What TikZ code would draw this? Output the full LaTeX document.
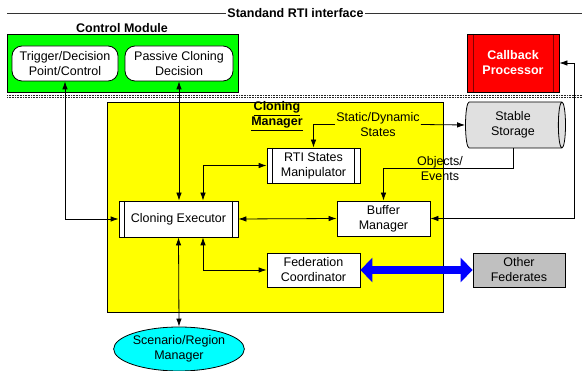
\documentclass[tikz,border=0pt]{standalone}
\usepackage{fontspec}
\setmainfont{Liberation Sans}
\usetikzlibrary{shapes.geometric,arrows.meta,positioning,calc}
\definecolor{ctrlgreen}{RGB}{0,255,0}
\definecolor{mgryellow}{RGB}{255,255,0}
\definecolor{cbred}{RGB}{255,0,0}
\definecolor{scencyan}{RGB}{0,255,255}
\definecolor{fedblue}{RGB}{0,0,255}
\definecolor{storgray}{RGB}{224,224,224}
\definecolor{othgray}{RGB}{192,192,192}

\tikzset{
  blk/.style={draw,line width=0.8pt,fill=white,align=center,inner sep=1pt},
  roundblk/.style={blk,rounded corners=10pt},
  procblk/.style={blk,path picture={
    \draw[line width=0.8pt] ([xshift=5.5pt]path picture bounding box.north west) -- ([xshift=5.5pt]path picture bounding box.south west);
    \draw[line width=0.8pt] ([xshift=-5.5pt]path picture bounding box.north east) -- ([xshift=-5.5pt]path picture bounding box.south east);}},
  lbl/.style={align=center,inner sep=1pt},
  link/.style={line width=0.8pt,>={Latex[length=8pt,width=5.5pt]}},
  fedlink/.style={draw=fedblue,line width=8pt,{Triangle[length=12pt,width=24pt]}-{Triangle[length=12pt,width=24pt]}}
}

\begin{document}
\begin{tikzpicture}[x=1pt,y=-1pt,font=\fontsize{12.5}{15}\selectfont]
\useasboundingbox (0,0) rectangle (582,371);

% Title
\node[lbl,font=\fontsize{12.5}{15}\selectfont\bfseries] (std) at (295.5,13) {Standand RTI interface};
\coordinate (tl) at (7,13);
\coordinate (tr) at (582,13);
\draw[line width=0.8pt,gray!40!black] (tl) -- (std.west);
\draw[line width=0.8pt,gray!40!black] (std.east) -- (tr);

% Control module
\node[lbl,font=\fontsize{12.5}{15}\selectfont\bfseries] (ctrltitle) at (122,28) {Control Module};
\node[draw,line width=0.8pt,fill=ctrlgreen,minimum width=231pt,minimum height=58pt] (ctrl) at (122.5,63) {};
\node[roundblk,minimum width=106pt,minimum height=35pt] (trig) at (65,63.5) {Trigger/Decision\\Point/Control};
\node[roundblk,minimum width=108pt,minimum height=35pt] (pass) at (179,63.5) {Passive Cloning\\Decision};

% Callback processor
\node[draw,line width=0.8pt,fill=cbred,text=white,font=\fontsize{12.5}{15}\selectfont\bfseries,align=center,
  minimum width=92pt,minimum height=58pt,path picture={
    \draw[line width=0.8pt,red!50!black] ([xshift=6pt]path picture bounding box.north west) -- ([xshift=6pt]path picture bounding box.south west);
    \draw[line width=0.8pt,red!50!black] ([xshift=-6pt]path picture bounding box.north east) -- ([xshift=-6pt]path picture bounding box.south east);}]
  (cb) at (513,63) {Callback\\Processor};

% RTI boundary
\coordinate (bl) at (7,95.5);
\coordinate (br) at (582,95.5);
\draw[line width=0.7pt,gray!30!black,dash pattern=on 1pt off 0.6pt] (bl) -- (br);
\draw[line width=0.7pt,gray!30!black,dash pattern=on 1pt off 0.6pt] ([yshift=-2pt]bl) -- ([yshift=-2pt]br);

% Cloning manager
\node[draw,line width=0.8pt,fill=mgryellow,minimum width=336pt,minimum height=210pt] (cm) at (275,207) {};
\node[lbl,font=\fontsize{12.5}{15}\selectfont\bfseries] (cmtitle) at (277,116) {\underline{Cloning}\\\underline{Manager}};
\node[procblk,minimum width=93pt,minimum height=35pt] (rti) at (313.5,165.5) {RTI States\\Manipulator};
\node[procblk,minimum width=119pt,minimum height=36pt] (exec) at (178.5,219) {Cloning Executor};
\node[blk,minimum width=93pt,minimum height=35pt] (buf) at (383.5,218.5) {Buffer\\Manager};
\node[blk,minimum width=93pt,minimum height=34pt] (fed) at (313.5,270) {Federation\\Coordinator};

% Outside the manager
\node[cylinder,draw,line width=0.8pt,fill=storgray,aspect=0.25,minimum width=46pt,minimum height=100pt,align=center,inner sep=1pt] (stor) at (513,125) {Stable\\Storage};
\node[blk,fill=othgray,minimum width=92pt,minimum height=34pt] (oth) at (519,270) {Other\\Federates};
\node[ellipse,draw,line width=0.8pt,fill=scencyan,minimum width=111pt,minimum height=44pt,align=center,inner sep=0pt] (scen) at (179,349) {Scenario/Region\\Manager};
\node[lbl] (sd) at (378,124.5) {Static/Dynamic\\States};
\node[lbl] (oe) at (440,168.5) {Objects/\\Events};

% Connectors
\draw[link,<->] (trig.south) |- (exec.west);
\draw[link,<->] (pass.south) -- (pass.south |- exec.north);
\draw[link,<->] ([xshift=24.5pt]exec.north) |- (rti.west);
\draw[link,<->] (exec.east) -- (buf.west);
\draw[link,<->] ([xshift=24.5pt]exec.south) |- (fed.west);
\draw[link,<->] (exec.south) -- (scen.north);
\draw[link,->] (sd.west) -| (rti.north);
\draw[link,->] (sd.east) -- (stor.west);
\draw[link,->] (stor.south) |- (oe.center) -| (buf.north);
\coordinate (rt) at (574,218.5);
\draw[link,<->] (buf.east) -- (rt) |- (cb.east);
\draw[fedlink] (fed.east) -- (oth.west);

\end{tikzpicture}
\end{document}
